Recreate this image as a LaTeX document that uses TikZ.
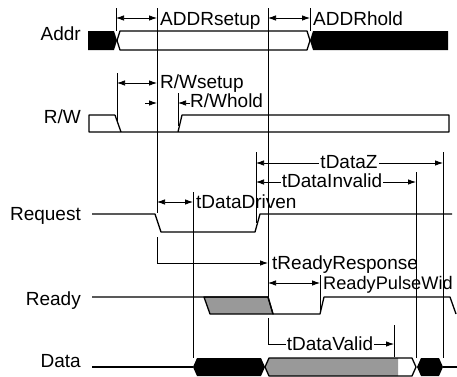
\documentclass[tikz,border=0pt]{standalone}
\usepackage{fontspec}
\setmainfont{Liberation Sans}
\usetikzlibrary{arrows.meta}

\tikzset{
    sig/.style={line width=1.3pt, line join=round},
    guide/.style={line width=0.75pt},
    dim/.style={guide, {Latex[length=8pt,width=5.5pt]}-{Latex[length=8pt,width=5.5pt]}},
    dimto/.style={guide, -{Latex[length=8pt,width=5.5pt]}},
    lbl/.style={anchor=base west, inner sep=0pt},
    signame/.style={anchor=base east, inner sep=0pt},
    midlbl/.style={anchor=base, fill=white, inner xsep=1pt, inner ysep=0pt}
}

\begin{document}
\begin{tikzpicture}[x=1pt,y=-1pt,font=\fontsize{19}{22}\selectfont]
    \useasboundingbox (0,0) rectangle (457,376);

    % signal names
    \node[signame] (addr) at (81,40) {Addr};
    \node[signame] (rw) at (81,123) {R/W};
    \node[signame] (req) at (81,220) {Request};
    \node[signame] (rdy) at (81,305) {Ready};
    \node[signame] (dat) at (81,367) {Data};

    % Addr bus
    \fill (88,31) -- (114,31) -- (117,40.5) -- (114,50) -- (88,50) -- cycle;
    \draw[sig] (117,40.5) -- (120,31) -- (307,31) -- (310,40.5) -- (307,50) -- (120,50) -- cycle;
    \fill (310,40.5) -- (313,31) -- (448,31) -- (448,50) -- (313,50) -- cycle;

    % R/W
    \draw[sig] (115,115) -- (89,115) -- (89,132) -- (449,132) -- (449,115) -- (182,115) -- (178,132);
    \draw[sig] (115,115) -- (121,132);

    % Request
    \draw[sig] (92,214) -- (155,214) -- (161,232) -- (255,232) -- (260,214) -- (452,214);

    % Ready
    \draw[sig, fill=black!40] (204,297) -- (268,297) -- (273,314) -- (210,314) -- cycle;
    \draw[sig] (92,297) -- (268,297) -- (273,314) -- (320,314) -- (324,297) -- (450,297) -- (456,314);

    % Data bus
    \draw[sig] (92,367) -- (193,367);
    \fill (193,367) -- (197,358) -- (261,358) -- (265,367) -- (261,376) -- (197,376) -- cycle;
    \fill[black!40] (265,367) -- (269,358) -- (398,358) -- (398,376) -- (269,376) -- cycle;
    \draw[sig] (265,367) -- (269,358) -- (412,358) -- (416,367) -- (412,376) -- (269,376) -- cycle;
    \fill (417,367) -- (421,358) -- (439,358) -- (443,367) -- (439,376) -- (421,376) -- cycle;
    \draw[sig] (443,367) -- (457,367);

    % draw guide lines
    \draw[guide] (116,8) -- (116,31);
    \draw[guide] (157,8) -- (157,213);
    \draw[guide] (268,8) -- (268,297);
    \draw[guide] (310,8) -- (310,31);
    \draw[guide] (117,73) -- (117,122);
    \draw[guide] (178,93) -- (178,126);
    \draw[guide] (193,192) -- (193,358);
    \draw[guide] (256,152) -- (256,223);
    \draw[guide] (320,275) -- (320,312);
    \draw[guide] (394,325) -- (394,357);
    \draw[guide] (416,172) -- (416,358);
    \draw[guide] (443,152) -- (443,358);

    % draw timing arrows
    \draw[dim] (116,18) -- (157,18);
    \node[lbl] (adsetup) at (160,25) {ADDRsetup};
    \draw[dim] (268,18) -- (310,18);
    \node[lbl] (adhold) at (313,25) {ADDRhold};
    \draw[dim] (117,83) -- (157,83);
    \node[lbl] (rwsetup) at (160,88) {R/Wsetup};
    \draw[dimto] (145,103) -- (157,103);
    \draw[dimto] (190,103) -- (178,103);
    \node[lbl] (rwhold) at (190,107) {R/Whold};
    \draw[dim] (157,202) -- (193,202);
    \node[lbl] (tdriven) at (196,208) {tDataDriven};
    \draw[dim] (256,163) -- (443,163);
    \node[midlbl] (tz) at (349,168) {tDataZ};
    \draw[dim] (256,182) -- (416,182);
    \node[midlbl] (tinvalid) at (332,187) {tDataInvalid};
    \draw[dimto] (157,237) |- (268,263);
    \node[lbl] (tresp) at (272,269) {tReadyResponse};
    \draw[dim] (268,283) -- (320,283);
    \node[lbl, font=\fontsize{18.2}{22}\selectfont] (pulsewid) at (323,289) {ReadyPulseWid};
    \draw[dimto] (268,318) |- (394,344);
    \node[midlbl] (tvalid) at (330,350) {tDataValid};
\end{tikzpicture}
\end{document}
